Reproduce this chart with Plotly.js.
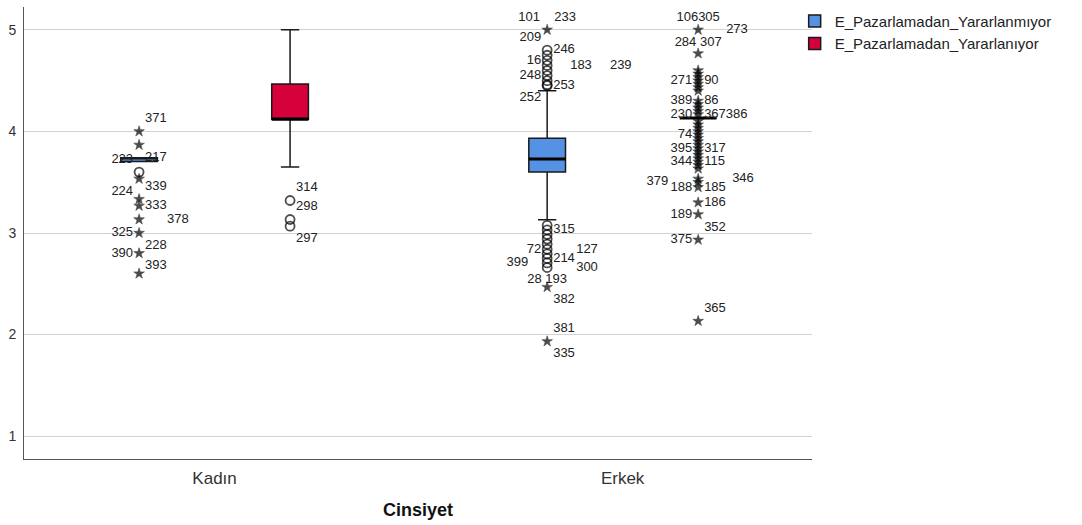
<!DOCTYPE html>
<html>
<head>
<meta charset="utf-8">
<script src="https://cdn.plot.ly/plotly-3.0.1.min.js"></script>
<style>html,body{margin:0;padding:0;background:#fff;}#chart{width:1082px;height:525px;}</style>
</head>
<body>
<div id="chart"></div>
<script>
// ---------------- DATA ----------------
const categories = ['Kadın', 'Erkek'];
const seriesNames = ['E_Pazarlamadan_Yararlanmıyor', 'E_Pazarlamadan_Yararlanıyor'];

// box statistics (per category: Kadın, Erkek)
const yokQ1 = [3.705, 3.600];
const yokMedian = [3.740, 3.728];
const yokQ3 = [3.740, 3.933];
const yokLower = [3.705, 3.130];
const yokUpper = [3.740, 4.400];

const varQ1 = [4.120, 4.133];
const varMedian = [4.120, 4.133];
const varQ3 = [4.467, 4.133];
const varLower = [3.650, 4.133];
const varUpper = [5.000, 4.133];

// outliers (circles) and extremes (stars)
const kadinYokCircles = [3.60];
const kadinYokStars = [4.00, 3.867, 3.533, 3.333, 3.267, 3.133, 3.00, 2.80, 2.60];
const kadinVarCircles = [3.32, 3.133, 3.067];
const kadinVarStars = [];
const erkekYokCircles = [4.80, 4.75, 4.70, 4.65, 4.60, 4.55, 4.50, 4.46, 4.45,
                         3.075, 3.03, 2.985, 2.94, 2.89, 2.84, 2.795, 2.75, 2.705, 2.66];
const erkekYokStars = [5.00, 2.467, 1.933];
const erkekVarCircles = [];
const erkekVarStars = [5.00, 4.767, 4.60, 4.567, 4.533, 4.50, 4.467, 4.433, 4.40,
                       4.30, 4.267, 4.233, 4.20, 4.167, 4.10, 4.067, 4.033, 4.00,
                       3.967, 3.933, 3.90, 3.867, 3.833, 3.80, 3.767, 3.733, 3.70,
                       3.667, 3.633, 3.533, 3.50, 3.45, 3.30, 3.183, 2.933, 2.133];

// case labels: [text, value of the labelled point]
const S = '\u00a0';
const kadinYokLabels = [['371', 4.00], ['217', 3.867], ['223', 3.60], ['224', 3.533], ['339', 3.333],
  ['333', 3.267], ['378', 3.133], ['325', 3.00], ['228', 3.00], ['390', 2.80], ['393', 2.80]];
const kadinVarLabels = [['314', 3.32], ['298', 3.133], ['297', 3.067]];
const erkekYokLabels = [['101' + S+S+S+S + '233', 5.00], ['209', 4.80], ['246', 4.80], ['16', 4.70],
  ['183'+S+S+S+S+S+'239', 4.65], ['248', 4.55], ['253', 4.45], ['252', 4.45],
  ['315', 3.03], ['127', 2.84], ['72', 2.84], ['214', 2.75], ['399', 2.705],
  ['300', 2.66], ['28 193', 2.66], ['382', 2.467], ['381', 1.933], ['335', 1.933]];
const erkekVarLabels = [['106305', 5.00], ['273', 5.00], ['284' + S + '307', 5.00],
  ['271', 4.50], ['90', 4.50], ['389', 4.30], ['86', 4.30], ['230', 4.167], ['367386', 4.167],
  ['74', 3.967], ['395', 3.833], ['317', 3.833], ['344', 3.70], ['115', 3.70],
  ['379', 3.50], ['188', 3.45], ['185', 3.45], ['346', 3.533],
  ['186', 3.30], ['189', 3.183], ['352', 2.933], ['375', 2.933], ['365', 2.133]];

// ---------------- LABEL PLACEMENT (style) ----------------
const kadinYokLabelPos = ['top right', 'bottom right', 'top left', 'bottom left', 'top right',
  'middle right', 'middle right', 'middle left', 'bottom right', 'middle left', 'bottom right'];
const kadinYokLabelGap = [6, 6, 6, 6, 6, 6, 28, 6, 6, 6, 6];
const kadinVarLabelPos = ['top right', 'top right', 'bottom right'];
const kadinVarLabelGap = [6, 6, 6];
const erkekYokLabelPos = ['top center', 'top left', 'middle right', 'middle left',
  'middle right', 'middle left', 'middle right', 'bottom left',
  'middle right', 'middle right', 'middle left', 'middle right', 'middle left',
  'middle right', 'bottom center', 'bottom right', 'top right', 'bottom right'];
const erkekYokLabelGap = [6, 6, 6, 6, 23, 6, 6, 6, 6, 29, 6, 6, 19, 29, 6, 6, 6, 6];
const erkekVarLabelPos = ['top center', 'middle right', 'bottom center',
  'middle left', 'middle right', 'middle left', 'middle right', 'middle left', 'middle right',
  'middle left', 'middle left', 'middle right', 'middle left', 'middle right',
  'middle left', 'middle left', 'middle right', 'middle right',
  'middle right', 'middle left', 'top right', 'middle left', 'top right'];
const erkekVarLabelGap = [6, 28, 6, 6, 6, 6, 6, 6, 6, 6, 6, 6, 6, 6, 30, 6, 6, 34, 6, 6, 6, 6, 6];

const FONT = 'Liberation Sans, Arial, Helvetica, sans-serif';
const colors = ['#5592e3', '#d6003a'];
const groups = ['yok', 'var'];

function outlierTrace(group, lists) {
  const x = [], y = [], sym = [];
  lists.forEach(([cat, circ, star]) => {
    circ.forEach(v => { x.push(cat); y.push(v); sym.push('circle-open'); });
    star.forEach(v => { x.push(cat); y.push(v); sym.push('star'); });
  });
  return {
    type: 'scatter', mode: 'markers', x: x, y: y, orientation: 'v',
    offsetgroup: group, showlegend: false, hoverinfo: 'skip',
    marker: {symbol: sym, size: sym.map(s => s === 'star' ? 8 : 9), color: '#000',
             line: {color: '#000', width: sym.map(s => s === 'star' ? 0.6 : 1.8)}}
  };
}

// text traces; an invisible marker whose radius sets the gap between point and label
function labelTrace(group, lists) {
  const x = [], y = [], t = [], p = [], sz = [];
  lists.forEach(([cat, labels, pos, gap]) => {
    labels.forEach((l, i) => {
      x.push(cat); y.push(l[1]); t.push(l[0]); p.push(pos[i]);
      sz.push(2 * 0.8 * (gap[i] - 1));
    });
  });
  return {
    type: 'scatter', mode: 'markers+text', x: x, y: y, text: t, textposition: p,
    orientation: 'v', offsetgroup: group, showlegend: false, hoverinfo: 'skip',
    marker: {size: sz, color: 'rgba(0,0,0,0)', line: {width: 0}},
    textfont: {family: FONT, size: 13, color: '#222'}, cliponaxis: false
  };
}

function boxTrace(i, q1, med, q3, lo, hi) {
  return {
    type: 'box', name: seriesNames[i], x: categories, offsetgroup: groups[i],
    q1: q1, median: med, q3: q3, lowerfence: lo, upperfence: hi,
    fillcolor: colors[i], line: {color: '#1a1a1a', width: 1.5}, whiskerwidth: 0.5,
    boxpoints: false, hoverinfo: 'skip'
  };
}

// thick median line drawn as a degenerate box at the median
function medianTrace(i, cats, med) {
  return {
    type: 'box', x: cats, offsetgroup: groups[i], showlegend: false,
    q1: med, median: med, q3: med, lowerfence: med, upperfence: med,
    fillcolor: 'rgba(0,0,0,0)', line: {color: '#000', width: 3}, whiskerwidth: 0,
    boxpoints: false, hoverinfo: 'skip'
  };
}

const traces = [
  boxTrace(0, yokQ1, yokMedian, yokQ3, yokLower, yokUpper),
  boxTrace(1, varQ1, varMedian, varQ3, varLower, varUpper),
  medianTrace(0, [categories[1]], [yokMedian[1]]),
  medianTrace(1, categories, varMedian),
  labelTrace(groups[0], [[categories[0], kadinYokLabels, kadinYokLabelPos, kadinYokLabelGap],
                         [categories[1], erkekYokLabels, erkekYokLabelPos, erkekYokLabelGap]]),
  labelTrace(groups[1], [[categories[0], kadinVarLabels, kadinVarLabelPos, kadinVarLabelGap],
                         [categories[1], erkekVarLabels, erkekVarLabelPos, erkekVarLabelGap]]),
  outlierTrace(groups[0], [[categories[0], kadinYokCircles, kadinYokStars], [categories[1], erkekYokCircles, erkekYokStars]]),
  outlierTrace(groups[1], [[categories[0], kadinVarCircles, kadinVarStars], [categories[1], erkekVarCircles, erkekVarStars]])
];

const layout = {
  width: 1082, height: 525,
  margin: {l: 24, r: 270, t: 5, b: 66},
  paper_bgcolor: '#fff', plot_bgcolor: '#fff',
  font: {family: FONT, color: '#222'},
  boxmode: 'group', boxgap: 0.26, boxgroupgap: 0.757,
  scattermode: 'group', scattergap: 0.26,
  showlegend: true,
  legend: {x: 0.978, y: 1.005, xanchor: 'left', yanchor: 'top',
           font: {family: FONT, size: 15, color: '#222'},
           bgcolor: 'rgba(0,0,0,0)', tracegroupgap: 0, itemwidth: 30},
  xaxis: {
    type: 'category', categoryorder: 'array', categoryarray: categories,
    range: [-0.467, 1.464], showgrid: false, zeroline: false,
    showline: true, linecolor: '#555', linewidth: 1,
    ticks: 'outside', ticklen: 4, tickcolor: 'rgba(0,0,0,0)',
    tickfont: {family: FONT, size: 17, color: '#333'},
    title: {text: '<b>Cinsiyet</b>', font: {family: FONT, size: 18, color: '#111'}, standoff: 15}
  },
  yaxis: {
    range: [0.775, 5.225], tickvals: [1, 2, 3, 4, 5], showgrid: true, gridcolor: '#d2d2d2', gridwidth: 1,
    zeroline: false, showline: true, linecolor: '#555', linewidth: 1,
    ticks: 'outside', ticklen: 4, tickcolor: 'rgba(0,0,0,0)',
    tickfont: {family: FONT, size: 14, color: '#333'}
  }
};

Plotly.newPlot('chart', traces, layout, {displayModeBar: false, staticPlot: true});
</script>
</body>
</html>
